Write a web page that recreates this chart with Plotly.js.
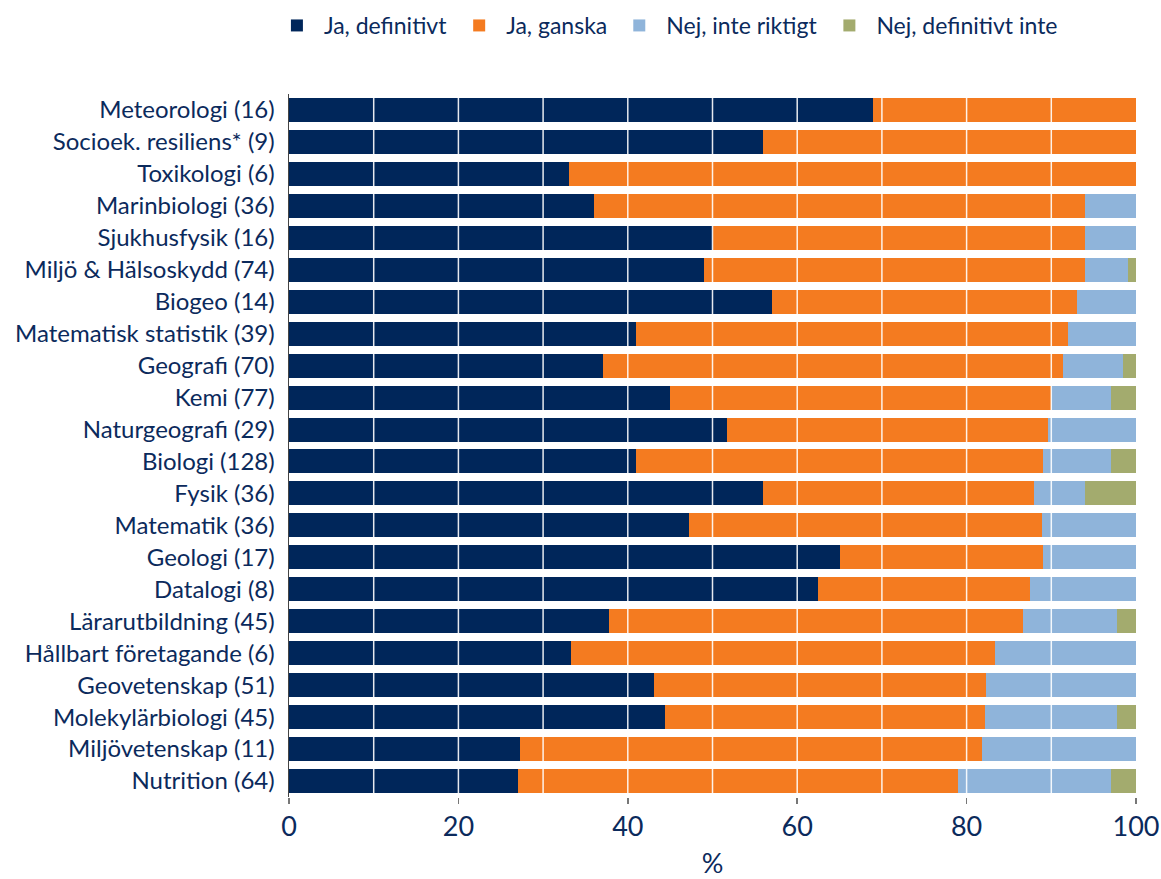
<!DOCTYPE html>
<html><head><meta charset="utf-8">
<script src="https://cdn.plot.ly/plotly-3.0.1.min.js"></script>
<style>html,body{margin:0;padding:0;background:#fff}#chart{width:1161px;height:879px}</style>
</head><body><div id="chart"></div>
<script>
const categories = ["Meteorologi (16)","Socioek. resiliens* (9)","Toxikologi (6)","Marinbiologi (36)","Sjukhusfysik (16)","Miljö & Hälsoskydd (74)","Biogeo (14)","Matematisk statistik (39)","Geografi (70)","Kemi (77)","Naturgeografi (29)","Biologi (128)","Fysik (36)","Matematik (36)","Geologi (17)","Datalogi (8)","Lärarutbildning (45)","Hållbart företagande (6)","Geovetenskap (51)","Molekylärbiologi (45)","Miljövetenskap (11)","Nutrition (64)"];
const jaDefinitivt = [69,56,33,36,50,49,57,41,37.1,45,51.7,41,56,47.2,65,62.5,37.8,33.3,43.1,44.4,27.3,27];
const jaGanska     = [31,44,67,58,44,45,36,51,54.3,45,37.9,48,32,41.7,24,25,48.9,50,39.2,37.8,54.5,52];
const nejInte      = [0,0,0,6,6,5,7,8,7.1,7,10.4,8,6,11.1,11,12.5,11.1,16.7,17.7,15.6,18.2,18];
const nejDefinitivt= [0,0,0,0,0,1,0,0,1.5,3,0,3,6,0,0,0,2.2,0,0,2.2,0,3];
const seriesNames = ["Ja, definitivt","Ja, ganska","Nej, inte riktigt","Nej, definitivt inte"];
const xTicks = [0,20,40,60,80,100];
const gridVals = [10,20,30,40,50,60,70,80,90];

const colors = ["#00265a","#f47b20","#8fb4da","#a3ab6e"];
const series = [jaDefinitivt, jaGanska, nejInte, nejDefinitivt];
const textColor = "#0b2a5c";
const font = "Lato, 'Open Sans', sans-serif";

const traces = series.map((vals,i)=>({
  type:"bar", orientation:"h", name:seriesNames[i], y:categories, x:vals,
  marker:{color:colors[i], line:{width:0}}, hoverinfo:"x+y+name"
}));

const shapes = gridVals.map(v=>({type:"line", xref:"x", yref:"paper", x0:v, x1:v, y0:0, y1:1, layer:"above", line:{color:"rgba(255,255,255,0.9)", width:1.5}}));

const layout = {
  width:1161, height:879,
  margin:{l:289, r:25, t:94, b:82, autoexpand:false},
  barmode:"stack", bargap:0.25,
  paper_bgcolor:"#fff", plot_bgcolor:"#fff",
  font:{family:font, color:textColor},
  showlegend:true,
  legend:{orientation:"h", xref:"container", yref:"container", x:0.574, xanchor:"center", y:0.971, yanchor:"middle",
    font:{size:23, color:textColor}, itemwidth:44, traceorder:"normal"},
  xaxis:{range:[0,100], tickvals:xTicks, ticktext:xTicks.map(String), showgrid:false, zeroline:false,
    ticks:"outside", ticklen:6, tickcolor:"#777", tickwidth:1.5, showline:false,
    tickfont:{size:27, color:textColor}, title:{text:"%", font:{size:27, color:textColor}, standoff:21}},
  yaxis:{type:"category", autorange:"reversed", showgrid:false, zeroline:false, showline:true, linecolor:"#444", linewidth:1.5,
    ticks:"", tickfont:{size:24, color:textColor}, ticklabelstandoff:8},
  shapes:shapes
};
Plotly.newPlot("chart", traces, layout, {displayModeBar:false, staticPlot:true});
</script></body></html>
